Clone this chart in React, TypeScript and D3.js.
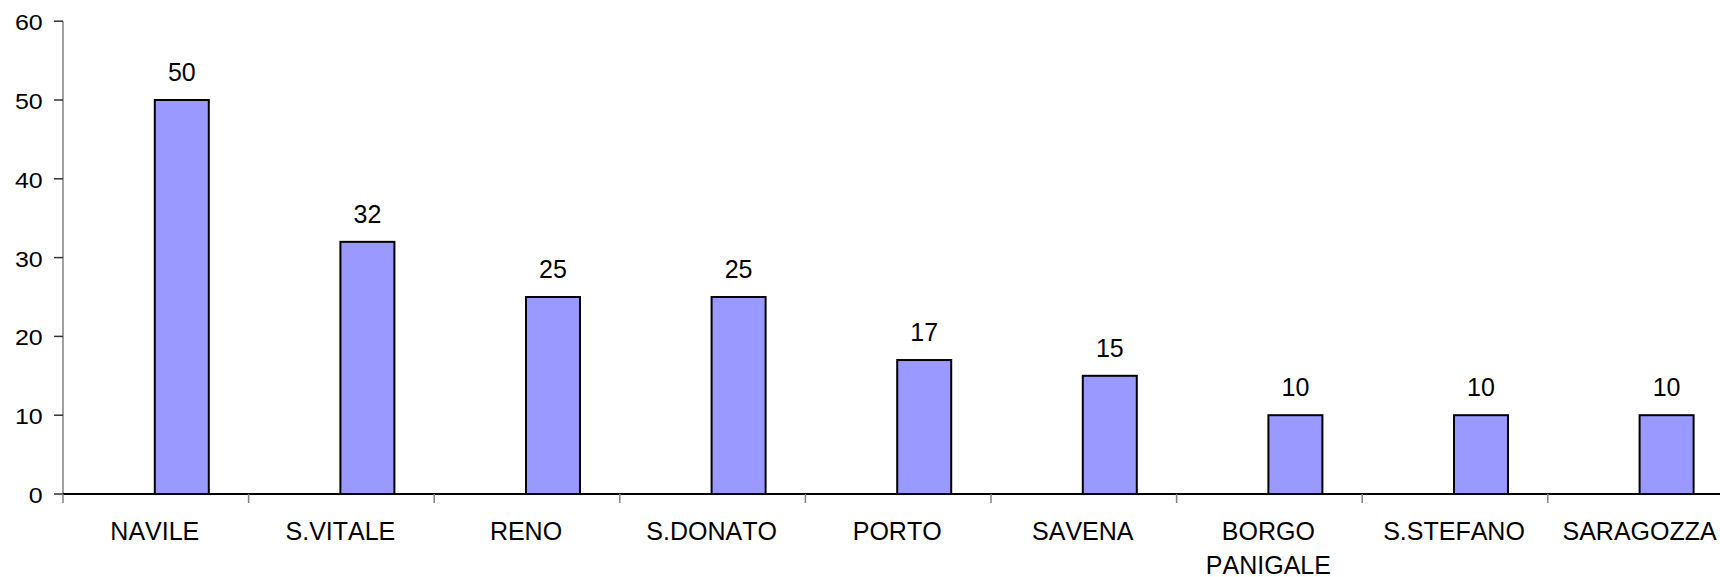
import React from "react";
import * as d3 from "d3";

const categories: string[][] = [
  ["NAVILE"],
  ["S.VITALE"],
  ["RENO"],
  ["S.DONATO"],
  ["PORTO"],
  ["SAVENA"],
  ["BORGO", "PANIGALE"],
  ["S.STEFANO"],
  ["SARAGOZZA"],
];
const values: number[] = [50, 32, 25, 25, 17, 15, 10, 10, 10];
const yTicks: number[] = [0, 10, 20, 30, 40, 50, 60];

const W = 1720;
const H = 577;
const x0 = 63;
const band = 185.6;
const y0 = 494;
const yTop = 21.2;

export default function App() {
  const keys = categories.map((c) => c.join(" "));
  const x = d3
    .scaleBand<string>()
    .domain(keys)
    .range([x0, x0 + band * keys.length])
    .paddingInner(0)
    .paddingOuter(0);
  const y = d3.scaleLinear().domain([0, 60]).range([y0, yTop]);
  const barW = 54;
  const font = "'Liberation Sans', Arial, sans-serif";
  const fs = 25;

  return (
    <svg
      width={W}
      height={H}
      style={{ position: "absolute", left: 0, top: 0, background: "#fff", fontKerning: "none" }}
      fontFamily={font}
    >
      {/* y axis */}
      <line x1={x0} x2={x0} y1={y(60)} y2={y0} stroke="#808080" strokeWidth={1.5} />
      {yTicks.map((t) => {
        const ty = y(t) + 1;
        return (
          <g key={t}>
            <line x1={x0 - 9} x2={x0} y1={y(t)} y2={y(t)} stroke="#333" strokeWidth={1.5} />
            <text
              x={42.7}
              y={0}
              textAnchor="end"
              fontSize={fs}
              fill="#000"
              transform={`translate(0 ${ty}) scale(1 0.88) translate(0 9)`}
            >
              {t}
            </text>
          </g>
        );
      })}
      {/* bars */}
      {keys.map((k, i) => {
        const cx = (x(k) as number) + x.bandwidth() / 2;
        const bx = cx - 1;
        const top = y(values[i]);
        return (
          <g key={k}>
            <rect
              x={bx}
              y={top}
              width={barW}
              height={y0 - top}
              fill="#9999FF"
              stroke="#000"
              strokeWidth={2}
            />
            <text
              x={bx + barW / 2}
              y={top - 19}
              textAnchor="middle"
              fontSize={fs}
              fill="#000"
            >
              {values[i]}
            </text>
          </g>
        );
      })}
      {/* x axis */}
      <line x1={x0} x2={W} y1={y0} y2={y0} stroke="#000" strokeWidth={2} />
      {keys.map((k) => (
        <line
          key={"t" + k}
          x1={x(k) as number}
          x2={x(k) as number}
          y1={y0}
          y2={y0 + 9}
          stroke="#808080"
          strokeWidth={1.5}
        />
      ))}
      {categories.map((lines, i) => {
        const k = keys[i];
        const cx = (x(k) as number) + x.bandwidth() / 2;
        return (
          <text key={"l" + k} textAnchor="middle" fontSize={fs} fill="#000">
            {lines.map((ln, j) => (
              <tspan key={j} x={cx - 1} y={540 + j * 34}>
                {ln}
              </tspan>
            ))}
          </text>
        );
      })}
    </svg>
  );
}
